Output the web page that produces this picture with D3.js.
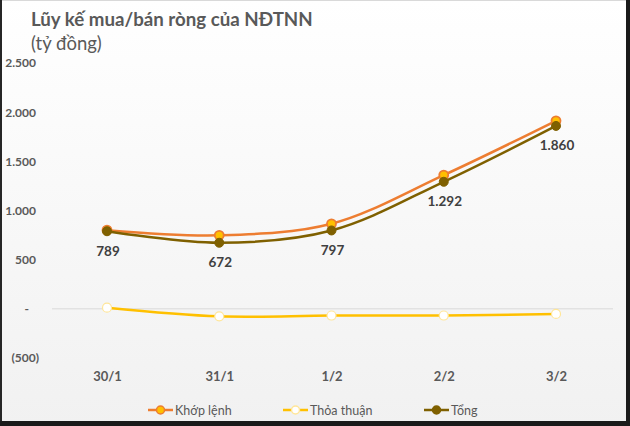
<!DOCTYPE html>
<html><head><meta charset="utf-8">
<script src="https://cdn.jsdelivr.net/npm/d3@7/dist/d3.min.js"></script>
<style>html,body{margin:0;padding:0;background:#fff}svg{display:block}</style>
</head><body>
<script>
const categories = ["30/1", "31/1", "1/2", "2/2", "3/2"];
const khopLenh = [800, 748, 865, 1360, 1912];
const thoaThuan = [12, -76, -68, -68, -52];
const tong = [789, 672, 797, 1292, 1860];
const tongLabels = ["789", "672", "797", "1.292", "1.860"];
const yTicks = [-500, 0, 500, 1000, 1500, 2000, 2500];

const W = 630, H = 426;
const font = "Lato, 'Open Sans', sans-serif";
const svg = d3.select("body").append("svg").attr("width", W).attr("height", H);
const defs = svg.append("defs");
const grad = defs.append("linearGradient").attr("id", "bg").attr("x1", 0).attr("y1", 0).attr("x2", 0).attr("y2", 1);
grad.append("stop").attr("offset", "0%").attr("stop-color", "#ffffff");
grad.append("stop").attr("offset", "100%").attr("stop-color", "#f1f1f1");
svg.append("rect").attr("width", W).attr("height", H).attr("fill", "url(#bg)");
// frame
svg.append("rect").attr("x", 0.5).attr("y", 0.5).attr("width", W - 1).attr("height", H - 1).attr("fill", "none").attr("stroke", "#d9d9d9");
svg.append("rect").attr("x", 0).attr("y", 0).attr("width", 2).attr("height", H).attr("fill", "#262626");
svg.append("rect").attr("x", 626).attr("y", 0).attr("width", 4).attr("height", H).attr("fill", "#1a1a1a");
svg.append("rect").attr("x", 0).attr("y", 421).attr("width", W).attr("height", 5).attr("fill", "#1a1a1a");

// title
svg.append("text").attr("x", 31).attr("y", 26).attr("font-family", font).attr("font-weight", "bold")
  .attr("font-size", 18.7).attr("fill", "#595959").text("Lũy kế mua/bán ròng của NĐTNN");
svg.append("text").attr("x", 31).attr("y", 50).attr("font-family", font)
  .attr("font-size", 18.5).attr("fill", "#595959").text("(tỷ đồng)");

const x = d3.scalePoint().domain(categories).range([107, 556]);
const y = d3.scaleLinear().domain([-500, 2500]).range([358, 63]);

// zero gridline
svg.append("line").attr("x1", 52).attr("x2", 613).attr("y1", y(0)).attr("y2", y(0))
  .attr("stroke", "#d9d9d9").attr("stroke-width", 1);

// y axis
const fmt = v => v === 0 ? "-" : v < 0 ? "(" + d3.format(",")(-v).replace(/,/g, ".") + ")" : d3.format(",")(v).replace(/,/g, ".");
const yAxis = svg.append("g").attr("transform", "translate(36,0)")
  .call(d3.axisLeft(y).tickValues(yTicks).tickFormat(fmt).tickSize(0).tickPadding(0));
yAxis.select(".domain").remove();
yAxis.selectAll("text").attr("font-family", font).attr("font-weight", "bold").attr("font-size", 12)
  .attr("fill", "#595959")
  .attr("dx", d => d === 0 ? -7 : d < 0 ? 3 : 0);

// x axis
const xAxis = svg.append("g").attr("transform", "translate(0,372)")
  .call(d3.axisBottom(x).tickSize(0).tickPadding(0));
xAxis.select(".domain").remove();
xAxis.selectAll("text").attr("font-family", font).attr("font-weight", "bold").attr("font-size", 13)
  .attr("fill", "#595959");

const line = d3.line().x((d, i) => x(categories[i])).y(d => y(d)).curve(d3.curveCatmullRom.alpha(0.5));

// Thỏa thuận
svg.append("path").datum(thoaThuan).attr("d", line).attr("fill", "none").attr("stroke", "#FFC000").attr("stroke-width", 2.5);
svg.selectAll(".mt").data(thoaThuan).enter().append("circle")
  .attr("cx", (d, i) => x(categories[i])).attr("cy", d => y(d)).attr("r", 4.5)
  .attr("fill", "#ffffff").attr("stroke", "#ffe699").attr("stroke-width", 1.2);

// Khớp lệnh
svg.append("path").datum(khopLenh).attr("d", line).attr("fill", "none").attr("stroke", "#ED7D31").attr("stroke-width", 2.5);
svg.selectAll(".mk").data(khopLenh).enter().append("circle")
  .attr("cx", (d, i) => x(categories[i])).attr("cy", d => y(d)).attr("r", 4.5)
  .attr("fill", "#FFC000").attr("stroke", "#ED7D31").attr("stroke-width", 1.8);

// Tổng
svg.append("path").datum(tong).attr("d", line).attr("fill", "none").attr("stroke", "#7F6000").attr("stroke-width", 2.5);
svg.selectAll(".mg").data(tong).enter().append("circle")
  .attr("cx", (d, i) => x(categories[i])).attr("cy", d => y(d)).attr("r", 4.5)
  .attr("fill", "#7F6000").attr("stroke", "#7F6000").attr("stroke-width", 1);

// data labels
svg.selectAll(".lbl").data(tong).enter().append("text")
  .attr("x", (d, i) => x(categories[i]) + 1).attr("y", d => y(d) + 24.5)
  .attr("text-anchor", "middle").attr("font-family", font).attr("font-weight", "bold")
  .attr("font-size", 13.5).attr("fill", "#404040").text((d, i) => tongLabels[i]);

// legend
const legend = [
  {name: "Khớp lệnh", x: 148, stroke: "#ED7D31", fill: "#FFC000", mstroke: "#ED7D31"},
  {name: "Thỏa thuận", x: 283, stroke: "#FFC000", fill: "#ffffff", mstroke: "#ffe699"},
  {name: "Tổng", x: 424, stroke: "#7F6000", fill: "#7F6000", mstroke: "#7F6000"}
];
const lg = svg.selectAll(".lg").data(legend).enter().append("g").attr("transform", d => `translate(${d.x},410)`);
lg.append("line").attr("x1", 0).attr("x2", 25).attr("stroke", d => d.stroke).attr("stroke-width", 2.5);
lg.append("circle").attr("cx", 12.5).attr("r", 4).attr("fill", d => d.fill).attr("stroke", d => d.mstroke).attr("stroke-width", 1.5);
lg.append("text").attr("x", 27).attr("y", 4.5).attr("font-family", font).attr("font-size", 12.5)
  .attr("fill", "#595959").text(d => d.name);
</script>
</body></html>
